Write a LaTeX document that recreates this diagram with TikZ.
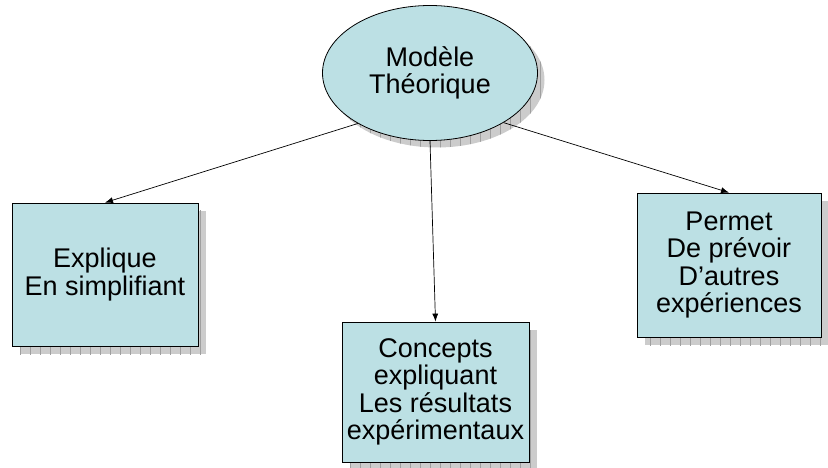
\documentclass[tikz,border=0pt]{standalone}
\usepackage{fontspec}
\setmainfont{Liberation Sans}
\usetikzlibrary{shapes.geometric,arrows.meta}
\definecolor{boxfill}{RGB}{188,224,228}
\begin{document}
\begin{tikzpicture}[x=1pt,y=-1pt,
  txt/.style={font=\fontsize{27}{27.5}\selectfont, align=center, text=black},
  boxnode/.style={txt, draw=black, line width=0.8pt, fill=boxfill, inner sep=0pt},
  shade/.style={fill=gray!40},
  gridline/.style={draw=gray!75, line width=0.4pt},
  conn/.style={-{Latex[length=8pt,width=6pt]}, line width=0.7pt}]
\useasboundingbox (0,0) rectangle (828,468);
% shadows
\begin{scope}
  \clip (437,80) ellipse[x radius=107.5, y radius=67.5];
  \fill[shade] (320,0) rectangle (550,160);
  \draw[gridline, step=10] (320,0) grid (550,160);
\end{scope}
\begin{scope}
  \clip (20,211) rectangle (206,354);
  \fill[shade] (20,211) rectangle (206,354);
  \draw[gridline, step=10] (0,200) grid (210,360);
\end{scope}
\begin{scope}
  \clip (350,330) rectangle (537,468);
  \fill[shade] (350,330) rectangle (537,468);
  \draw[gridline, step=10] (340,320) grid (540,470);
\end{scope}
\begin{scope}
  \clip (645,201) rectangle (828,345);
  \fill[shade] (645,201) rectangle (828,345);
  \draw[gridline, step=10] (640,200) grid (830,350);
\end{scope}
% nodes
\node[boxnode, ellipse, minimum width=215pt, minimum height=135pt] (m) at (430,73) {Modèle\\Théorique};
\node[boxnode, minimum width=186pt, minimum height=143pt] (b1) at (105,274.5) {Explique\\En simplifiant};
\node[boxnode, minimum width=187pt, minimum height=140pt] (b2) at (435.5,392) {Concepts\\expliquant\\Les résultats\\expérimentaux};
\node[boxnode, minimum width=184pt, minimum height=144pt] (b3) at (729,265) {Permet\\De prévoir\\D’autres\\expériences};
% connectors
\draw[conn] (m.215) -- (b1.north);
\draw[conn] (m.south) -- (b2.north);
\draw[conn] (m.326) -- (b3.north);
\end{tikzpicture}
\end{document}
